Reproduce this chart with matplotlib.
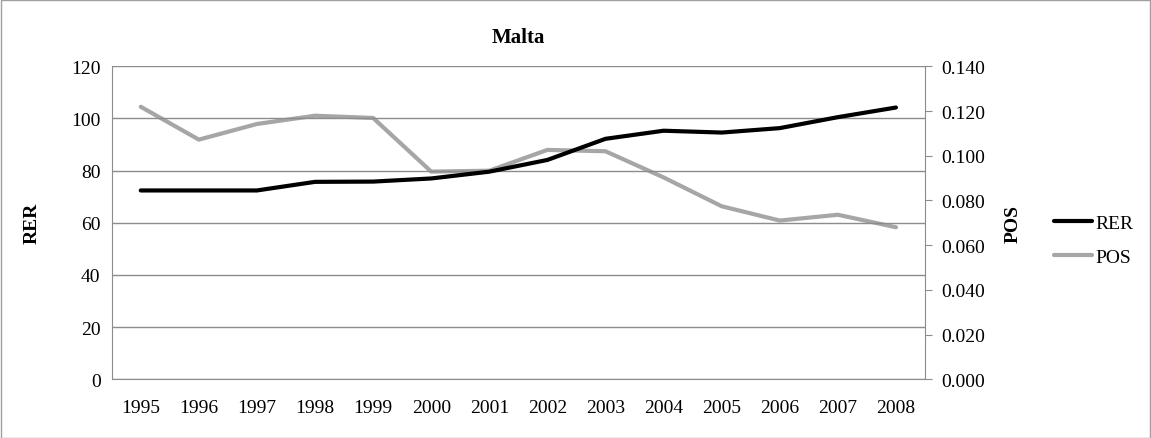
import matplotlib.pyplot as plt
from matplotlib.patches import Rectangle

# Datos
anios = ['1995', '1996', '1997', '1998', '1999', '2000', '2001',
         '2002', '2003', '2004', '2005', '2006', '2007', '2008']
rer = [72.4, 72.4, 72.4, 75.7, 75.8, 77.0, 79.6,
       84.1, 92.2, 95.3, 94.6, 96.3, 100.5, 104.2]
pos = [0.1219, 0.1072, 0.1142, 0.1179, 0.1169, 0.0929, 0.0933,
       0.1026, 0.1020, 0.0903, 0.0774, 0.0710, 0.0736, 0.0680]
ticks_izq = [0, 20, 40, 60, 80, 100, 120]
ticks_der = [0.0, 0.02, 0.04, 0.06, 0.08, 0.10, 0.12, 0.14]

plt.rcParams['font.family'] = ['Liberation Serif', 'DejaVu Serif']
plt.rcParams['font.size'] = 14

gris_eje = '#8c8c8c'

fig = plt.figure(figsize=(11.51, 4.39), dpi=100)
W, H = 1151, 439
ax = fig.add_axes([111.7 / W, 1 - 380.3 / H, (925 - 111.7) / W, (380.3 - 67.3) / H])

x = list(range(len(anios)))
l1, = ax.plot(x, rer, color='black', lw=3, solid_capstyle='round', solid_joinstyle='round', label='RER', zorder=3)

ax.set_xlim(-0.5, len(anios) - 0.5)
ax.set_ylim(0, 120)
ax.set_yticks(ticks_izq)
ax.set_xticks(x)
ax.set_xticklabels(anios)
ax.tick_params(axis='y', length=0, pad=8)
ax.tick_params(axis='x', length=0, pad=14)
ax.grid(axis='y', color=gris_eje, lw=1)
ax.set_axisbelow(True)
for lado in ['top', 'right']:
    ax.spines[lado].set_visible(False)
for lado in ['left', 'bottom']:
    ax.spines[lado].set_color(gris_eje)
ax.set_ylabel('RER', fontweight='bold', labelpad=22)

ax2 = ax.twinx()
l2, = ax2.plot(x, pos, color='#a6a6a6', lw=3, solid_capstyle='round', solid_joinstyle='round', label='POS', zorder=2)
ax2.set_ylim(0, 0.14)
ax2.set_yticks(ticks_der)
ax2.set_yticklabels([f'{t:.3f}' for t in ticks_der])
ax2.tick_params(axis='y', direction='out', length=5, color=gris_eje, pad=7)
for lado in ['top', 'left', 'bottom']:
    ax2.spines[lado].set_visible(False)
ax2.spines['right'].set_color(gris_eje)
ax2.set_ylabel('POS', fontweight='bold', labelpad=14)
ax.set_zorder(ax2.get_zorder() + 1)
ax.patch.set_visible(False)

fig.text(518 / W, 1 - 38 / H, 'Malta', ha='center', va='center', fontweight='bold', fontsize=15)

fig.legend([l1, l2], ['RER', 'POS'], loc='center left', bbox_to_anchor=(1036 / W, 1 - 241 / H),
           frameon=False, handlelength=2.0, handletextpad=0.15, labelspacing=0.85)

fig.patches.append(Rectangle((0.5 / W, 0.5 / H), 1 - 1.5 / W, 1 - 1.5 / H, transform=fig.transFigure,
                             fill=False, edgecolor='#a0a0a0', lw=1))

plt.savefig('out.png', dpi=100)
